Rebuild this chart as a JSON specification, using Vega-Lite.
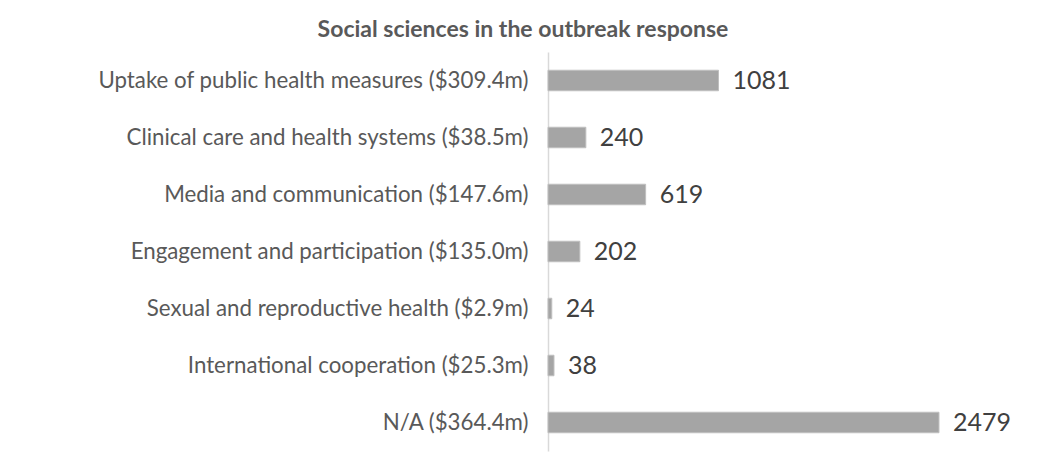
{
  "$schema": "https://vega.github.io/schema/vega-lite/v6.json",
  "width": 470,
  "height": 399,
  "autosize": {"type": "none"},
  "padding": {"left": 548, "top": 52, "right": 43, "bottom": 19},
  "background": "white",
  "title": {
    "text": "Social sciences in the outbreak response",
    "font": "Lato",
    "fontSize": 23,
    "fontWeight": "bold",
    "color": "#595959",
    "anchor": "middle",
    "dx": -260,
    "offset": 10
  },
  "data": {
    "values": [
      {"category": "Uptake of public health measures ($309.4m)", "count": 1081},
      {"category": "Clinical care and health systems ($38.5m)", "count": 240},
      {"category": "Media and communication ($147.6m)", "count": 619},
      {"category": "Engagement and participation ($135.0m)", "count": 202},
      {"category": "Sexual and reproductive health ($2.9m)", "count": 24},
      {"category": "International cooperation ($25.3m)", "count": 38},
      {"category": "N/A ($364.4m)", "count": 2479}
    ]
  },
  "encoding": {
    "y": {
      "field": "category",
      "type": "nominal",
      "sort": null,
      "scale": {"paddingInner": 0.64, "paddingOuter": 0.32},
      "axis": {
        "title": null,
        "domainColor": "#d9d9d9",
        "domainWidth": 1.5,
        "ticks": false,
        "labelPadding": 20,
        "labelFont": "Lato",
        "labelFontSize": 22.3,
        "labelColor": "#595959",
        "labelLimit": 600
      }
    },
    "x": {
      "field": "count",
      "type": "quantitative",
      "scale": {"domain": [0, 2980], "nice": false},
      "axis": null
    }
  },
  "layer": [
    {
      "mark": {"type": "bar", "color": "#a5a5a5", "stroke": "#bfbfbf", "strokeWidth": 1}
    },
    {
      "mark": {"type": "text", "align": "left", "baseline": "middle", "dx": 14, "font": "Lato", "fontSize": 25, "color": "#404040"},
      "encoding": {"text": {"field": "count", "type": "quantitative"}}
    }
  ],
  "config": {"view": {"stroke": null}}
}
